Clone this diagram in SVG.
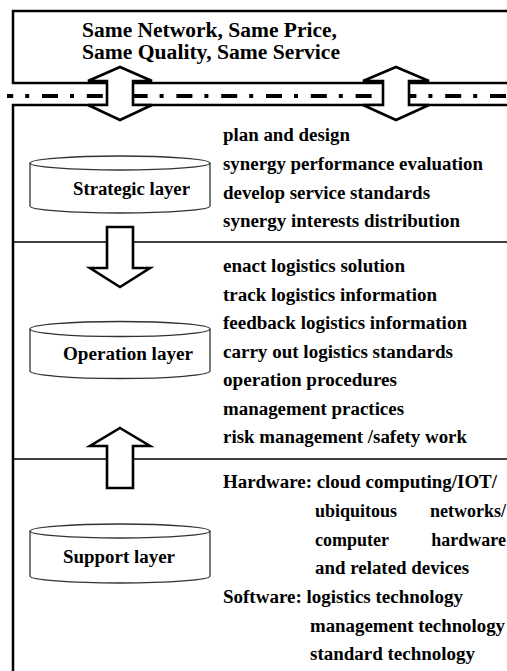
<svg xmlns="http://www.w3.org/2000/svg" width="507" height="671" viewBox="0 0 507 671">
<style>
text{font-family:'Liberation Serif','DejaVu Serif',serif;font-weight:bold;font-size:18px;fill:#000}
.ttl{font-size:20px}
.box{fill:none;stroke:#000;stroke-width:2.5}
.div{fill:none;stroke:#000;stroke-width:1.6}
.arr{fill:#fff;stroke:#000;stroke-width:2.6;stroke-linejoin:miter}
.cyl{fill:#fff;stroke:#333;stroke-width:1.3}
</style>
<rect width="507" height="671" fill="#fff"/>
<g id="frame">
<rect class="box" x="13" y="11" width="600" height="72"/>
<polyline class="box" points="13,671 13,105 507,105"/>
<line class="div" x1="13" y1="242" x2="507" y2="242"/>
<line class="div" x1="13" y1="459" x2="507" y2="459"/>
<line x1="7" y1="96" x2="507" y2="96" stroke="#000" stroke-width="4" stroke-dasharray="16 12 4 12.8" stroke-dashoffset="9.8"/>
</g>
<g id="title" font-family="Liberation Serif, serif">
<text class="ttl" x="82" y="37" textLength="255" lengthAdjust="spacingAndGlyphs">Same Network, Same Price,</text>
<text class="ttl" x="82" y="59" textLength="258" lengthAdjust="spacingAndGlyphs">Same Quality, Same Service</text>
</g>
<g id="connectors">
<polygon class="arr" points="120,67 152,81 133,81 133,105 152,105 120,120 88,105 107,105 107,81 88,81"/>
<polygon class="arr" points="396,67 429,81 409,81 409,105 429,105 396,120 363,105 383,105 383,81 363,81"/>
<polygon class="arr" points="107,227 133,227 133,268 150,268 120,287 90,268 107,268"/>
<polygon class="arr" points="120,428 150,446 133,446 133,488 107,488 107,446 90,446"/>
</g>
<g id="strategic">
<path class="cyl" d="M30,163 V206 A90,7 0 0 0 210,206 V163"/>
<ellipse class="cyl" cx="120" cy="163" rx="90" ry="7"/>
<text x="73" y="195" textLength="117" lengthAdjust="spacingAndGlyphs">Strategic layer</text>
</g>
<g id="operation">
<path class="cyl" d="M30,329 V371 A90,7.5 0 0 0 210,371 V329"/>
<ellipse class="cyl" cx="120" cy="329" rx="90" ry="7.5"/>
<text x="63" y="360" textLength="130" lengthAdjust="spacingAndGlyphs">Operation layer</text>
</g>
<g id="support">
<path class="cyl" d="M30,531 V576 A90,7 0 0 0 210,576 V531"/>
<ellipse class="cyl" cx="120" cy="531" rx="90" ry="7"/>
<text x="63" y="563" textLength="112" lengthAdjust="spacingAndGlyphs">Support layer</text>
</g>
<g id="strategic-tasks">
<text x="223" y="141" textLength="127" lengthAdjust="spacingAndGlyphs">plan and design</text>
<text x="223" y="170" textLength="260" lengthAdjust="spacingAndGlyphs">synergy performance evaluation</text>
<text x="223" y="198.5" textLength="207" lengthAdjust="spacingAndGlyphs">develop service standards</text>
<text x="223" y="227" textLength="237" lengthAdjust="spacingAndGlyphs">synergy interests distribution</text>
</g>
<g id="operation-tasks">
<text x="223" y="272" textLength="182" lengthAdjust="spacingAndGlyphs">enact logistics solution</text>
<text x="223" y="300.5" textLength="214" lengthAdjust="spacingAndGlyphs">track logistics information</text>
<text x="223" y="329" textLength="244" lengthAdjust="spacingAndGlyphs">feedback logistics information</text>
<text x="223" y="357.5" textLength="230" lengthAdjust="spacingAndGlyphs">carry out logistics standards</text>
<text x="223" y="386" textLength="174" lengthAdjust="spacingAndGlyphs">operation procedures</text>
<text x="223" y="414.5" textLength="181" lengthAdjust="spacingAndGlyphs">management practices</text>
<text x="223" y="443" textLength="244" lengthAdjust="spacingAndGlyphs">risk management /safety work</text>
</g>
<g id="support-tasks">
<text x="223" y="488" textLength="274" lengthAdjust="spacingAndGlyphs">Hardware: cloud computing/IOT/</text>
<text y="517"><tspan x="315">ubiquitous</tspan><tspan x="506" text-anchor="end">networks/</tspan></text>
<text y="545.5"><tspan x="315">computer</tspan><tspan x="506" text-anchor="end">hardware</tspan></text>
<text x="315" y="574" textLength="154" lengthAdjust="spacingAndGlyphs">and related devices</text>
<text x="223" y="603" textLength="240" lengthAdjust="spacingAndGlyphs">Software: logistics technology</text>
<text x="310" y="631.5" textLength="195" lengthAdjust="spacingAndGlyphs">management technology</text>
<text x="310" y="660" textLength="165" lengthAdjust="spacingAndGlyphs">standard technology</text>
</g>
</svg>
